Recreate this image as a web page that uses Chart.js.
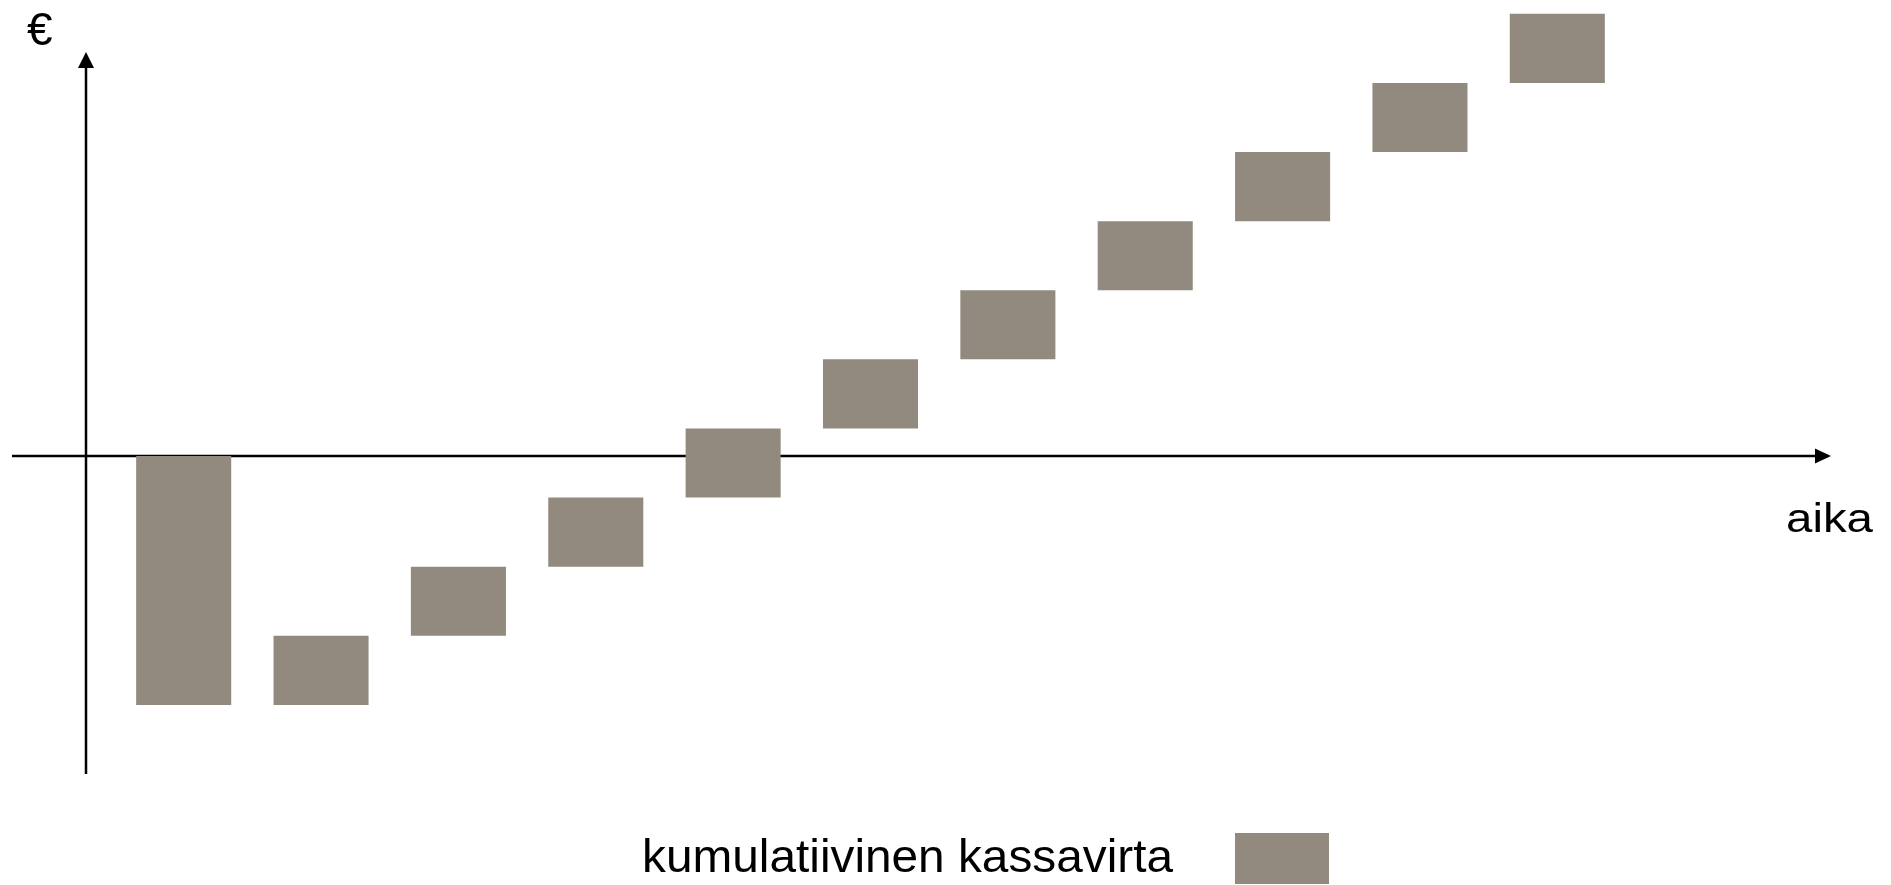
<!DOCTYPE html>
<html lang="fi">
<head>
<meta charset="utf-8">
<title>Kumulatiivinen kassavirta</title>
<script src="https://cdn.jsdelivr.net/npm/chart.js@4/dist/chart.umd.min.js"></script>
<style>
  html, body { margin: 0; padding: 0; background: #ffffff; }
  canvas { display: block; }
</style>
</head>
<body>
<canvas id="chart" width="1891" height="885"></canvas>
<script>
// Periods (years) on the time axis
const periods = ['0', '1', '2', '3', '4', '5', '6', '7', '8', '9', '10'];
// Cumulative cash flow (k€): each bar floats from the previous total to the new total
const barStart = [0, -18, -13, -8, -3, 2, 7, 12, 17, 22, 27];
const barEnd = [-18, -13, -8, -3, 2, 7, 12, 17, 22, 27, 32];
// Value range of the vertical axis
const yMin = -23;
const yMax = 33;

const seriesLabel = 'kumulatiivinen kassavirta';
const barColor = '#928a7f';
const textFont = '"Liberation Sans", Arial, sans-serif';

// Arrow-headed axes crossing at the origin, drawn beneath the bars
const arrowAxes = {
  id: 'arrowAxes',
  beforeDatasetsDraw(chart) {
    const ctx = chart.ctx;
    const y0 = chart.scales.y.getPixelForValue(0);
    const axisX = 86;
    ctx.save();
    ctx.strokeStyle = '#000';
    ctx.fillStyle = '#000';
    ctx.lineWidth = 2.5;

    // horizontal time axis
    ctx.beginPath();
    ctx.moveTo(12, y0);
    ctx.lineTo(1818, y0);
    ctx.stroke();
    ctx.beginPath();
    ctx.moveTo(1831, y0);
    ctx.lineTo(1815, y0 - 7.5);
    ctx.lineTo(1815, y0 + 7.5);
    ctx.closePath();
    ctx.fill();

    // vertical money axis
    ctx.beginPath();
    ctx.moveTo(axisX, 774);
    ctx.lineTo(axisX, 64);
    ctx.stroke();
    ctx.beginPath();
    ctx.moveTo(axisX, 52);
    ctx.lineTo(axisX - 8, 68);
    ctx.lineTo(axisX + 8, 68);
    ctx.closePath();
    ctx.fill();
    ctx.restore();
  },
  afterDraw(chart) {
    const ctx = chart.ctx;
    ctx.save();
    ctx.fillStyle = '#000';
    ctx.textBaseline = 'alphabetic';
    ctx.textAlign = 'left';

    // axis names
    ctx.font = '46px ' + textFont;
    ctx.fillText('€', 27, 45);

    ctx.save();
    ctx.font = '40px ' + textFont;
    const w = ctx.measureText('aika').width;
    ctx.translate(1786, 532);
    ctx.scale(87 / w, 1);
    ctx.fillText('aika', 0, 0);
    ctx.restore();

    // legend: label on the left, colour swatch on the right
    const ds = chart.data.datasets[0];
    ctx.font = '46px ' + textFont;
    const lw = ctx.measureText(ds.label).width;
    ctx.save();
    ctx.translate(642, 872);
    ctx.scale(531 / lw, 1);
    ctx.fillText(ds.label, 0, 0);
    ctx.restore();
    ctx.fillStyle = ds.backgroundColor;
    ctx.fillRect(1235, 833, 94, 51);
    ctx.restore();
  }
};

new Chart(document.getElementById('chart'), {
  type: 'bar',
  data: {
    labels: periods,
    datasets: [{
      label: seriesLabel,
      data: periods.map((_, i) => [barStart[i], barEnd[i]]),
      backgroundColor: barColor,
      borderWidth: 0,
      borderSkipped: false,
      categoryPercentage: 1,
      barPercentage: 0.692
    }]
  },
  options: {
    responsive: false,
    animation: false,
    layout: { padding: { left: 115, right: 265, top: 0, bottom: 111 } },
    plugins: {
      legend: { display: false },
      tooltip: { enabled: false }
    },
    scales: {
      x: { display: false, offset: true, grid: { display: false } },
      y: { display: false, min: yMin, max: yMax, grid: { display: false } }
    }
  },
  plugins: [arrowAxes]
});
</script>
</body>
</html>
